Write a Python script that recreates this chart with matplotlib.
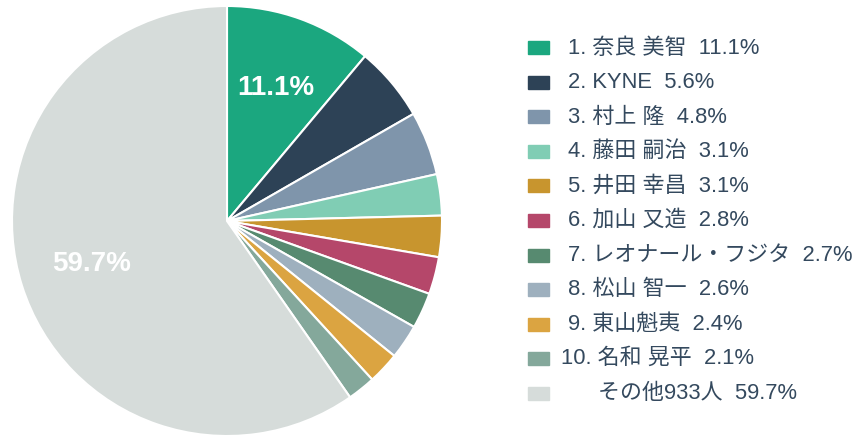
import matplotlib

matplotlib.use("Agg")

import matplotlib.pyplot as plt
import numpy as np
from matplotlib.patches import Rectangle

plt.rcParams["font.family"] = ["Liberation Sans", "Noto Sans CJK JP", "DejaVu Sans"]

# データ
ranks = ["1.", "2.", "3.", "4.", "5.", "6.", "7.", "8.", "9.", "10.", ""]
names = ["奈良 美智", "KYNE", "村上 隆", "藤田 嗣治", "井田 幸昌", "加山 又造",
         "レオナール・フジタ", "松山 智一", "東山魁夷", "名和 晃平", "その他933人"]
shares = [11.1, 5.6, 4.8, 3.1, 3.1, 2.8, 2.7, 2.6, 2.4, 2.1, 59.7]
colors = ["#1ba77f", "#2d4256", "#7f95ab", "#80cdb4", "#c8952e", "#b5476a",
          "#578a70", "#9eb0be", "#dba441", "#84a89b", "#d6dcda"]

W, H = 863, 436
fig = plt.figure(figsize=(W / 100, H / 100), dpi=100)

# 円グラフ（中心 227,221 / 半径 215px）
cx, cy, r = 227, 221, 215
ax = fig.add_axes([(cx - r) / W, (H - cy - r) / H, 2 * r / W, 2 * r / H])
wedges, _ = ax.pie(
    shares,
    colors=colors,
    startangle=90,
    counterclock=False,
    radius=1,
    wedgeprops=dict(edgecolor="white", linewidth=1.5),
)
ax.set_xlim(-1, 1)
ax.set_ylim(-1, 1)
ax.set_aspect("equal")
ax.axis("off")

# 10%以上の扇形にだけラベル
start = 90.0
for s in shares:
    mid = start - s * 3.6 / 2
    start -= s * 3.6
    if s >= 10:
        ang = np.deg2rad(mid)
        ax.text(0.66 * np.cos(ang), 0.66 * np.sin(ang), f"{s}%",
                ha="center", va="center", color="white",
                fontsize=20, fontweight="bold")

# 凡例（手描き）
text_color = "#34495e"
row0, step = 48, 34.5
for i, (rk, nm, s, c) in enumerate(zip(ranks, names, shares, colors)):
    y = 1 - (row0 + i * step) / H
    fig.patches.append(Rectangle((528 / W, y - 6.5 / H), 21 / W, 13 / H,
                                 transform=fig.transFigure, color=c))
    if rk:
        label = f"{rk} {nm}  {s}%"
        x = 561 if rk == "10." else 568
    else:
        label = f"{nm}  {s}%"
        x = 598
    fig.text(x / W, y, label, ha="left", va="center",
             fontsize=15.8, color=text_color)

fig.savefig("out.png", dpi=100)
